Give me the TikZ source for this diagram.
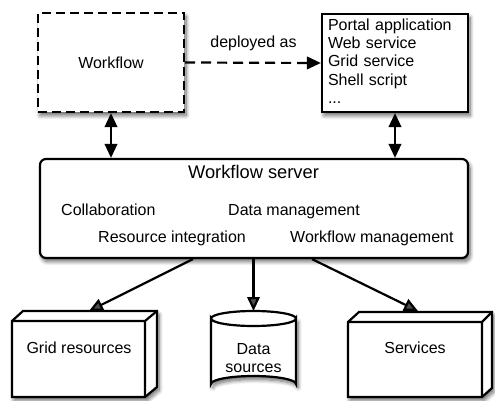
\documentclass[tikz,border=0pt]{standalone}
\usepackage{fontspec}
\setmainfont{Liberation Sans}
\usetikzlibrary{arrows.meta,shadows.blur,calc}
\begin{document}
\begin{tikzpicture}[x=1pt,y=-1pt,
  every node/.style={font=\fontsize{16}{18.3}\selectfont, inner sep=0pt},
  shad/.style={blur shadow={shadow xshift=2pt,shadow yshift=-3.5pt,shadow blur radius=4pt,shadow blur steps=8,shadow opacity=60}},
  box/.style={draw, line width=2.2pt, fill=white, shad},
  edge/.style={line width=2.2pt},
  tip/.tip={Triangle[length=14pt,width=12.5pt]},
  arr/.style={line width=2.2pt, -tip},
  darr/.style={line width=2.2pt, tip-tip},
  lbl/.style={anchor=base west},
  ctr/.style={anchor=base}]
\useasboundingbox (0,0) rectangle (495,401);

% top boxes
\node[box, dash pattern=on 9pt off 5pt, minimum width=146pt, minimum height=99pt] (wf) at (111,62.5) {Workflow};
\node[box, minimum width=146pt, minimum height=98pt, text width=134pt, align=left] (dep) at (395,63)
  {Portal application\\Web service\\Grid service\\Shell script\\...\rule[-4pt]{0pt}{0pt}};
\draw[arr, dash pattern=on 10pt off 6pt] (wf.east) -- (dep.west);
\node[ctr] (deplbl) at (253.5,48) {deployed as};

% server
\node[box, rounded corners=6pt, minimum width=428pt, minimum height=99pt] (srv) at (254,208.5) {};
\node[ctr, font=\fontsize{18.3}{20}\selectfont] (srvt) at (253.5,178) {Workflow server};
\node[lbl] (c1) at (61,215) {Collaboration};
\node[lbl] (c2) at (228,215) {Data management};
\node[lbl] (c3) at (98,242) {Resource integration};
\node[lbl] (c4) at (290,242) {Workflow management};

\draw[darr] (wf.south) -- (wf.south |- srv.north);
\draw[darr] (dep.south) -- (dep.south |- srv.north);

% grid resources (3D box)
\path[box] (12,397) -- (12,321) -- (23,311) -- (157,311) -- (157,387) -- (145,397) -- cycle;
\draw[edge] (12,321) -- (145,321) -- (157,311) (145,321) -- (145,397);
\node[ctr] (gr) at (79,353) {Grid resources};
\coordinate (grtop) at (89,311);

% services (3D box)
\path[box] (348,397) -- (348,322) -- (359,312) -- (492,312) -- (492,388) -- (482,397) -- cycle;
\draw[edge] (348,322) -- (482,322) -- (492,312) (482,322) -- (482,397);
\node[ctr] (sv) at (415,353) {Services};
\coordinate (svtop) at (418,311);

% data sources (cylinder)
\path[box] (211,318.5) arc[start angle=180,end angle=0,x radius=42.5pt,y radius=-7.5pt]
  -- (296,384) arc[start angle=0,end angle=-180,x radius=42.5pt,y radius=-8pt] -- cycle;
\draw[edge] (211,318.5) arc[start angle=180,end angle=360,x radius=42.5pt,y radius=-7.5pt];
\node[ctr] (ds1) at (253.5,354) {Data};
\node[ctr] (ds2) at (253.5,372) {sources};
\coordinate (dstop) at (253.5,311);

% bottom arrows
\draw[arr] ($(srv.south)+(-61,0)$) -- (grtop);
\draw[arr] (srv.south -| dstop) -- (dstop);
\draw[arr] ($(srv.south)+(58,0)$) -- (svtop);
\end{tikzpicture}
\end{document}
